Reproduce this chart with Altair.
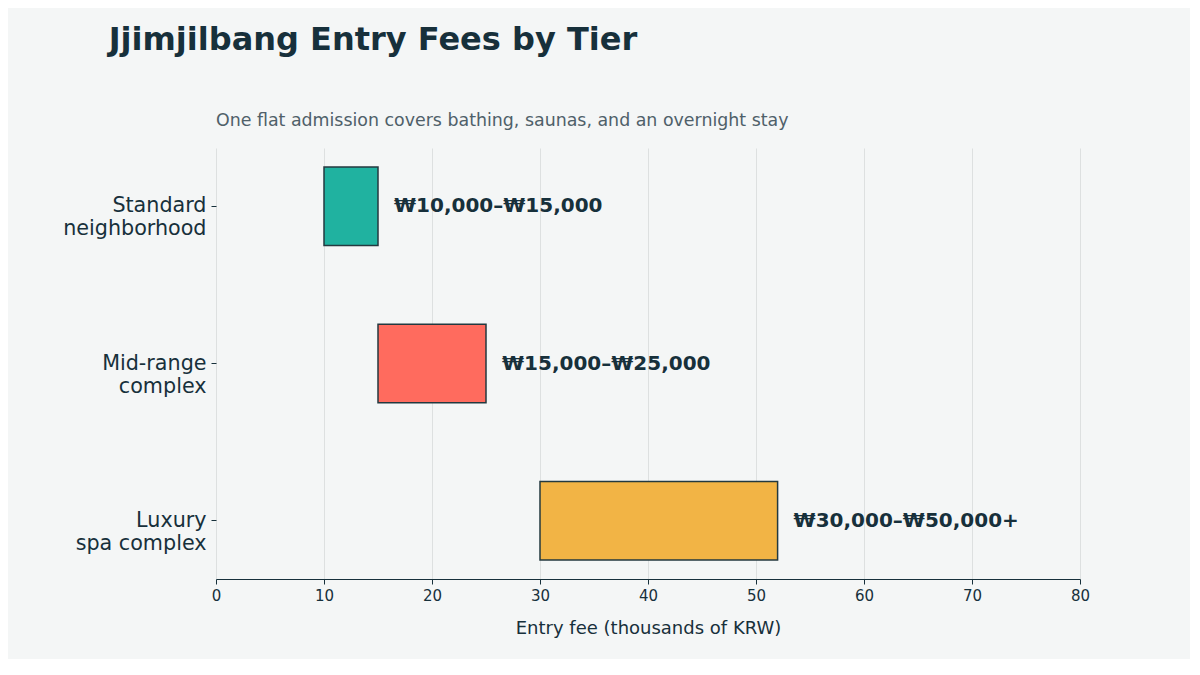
#!/usr/bin/env python3

"""Jjimjilbang entry fee ranges by tier."""

import altair as alt
import pandas as pd

tiers = ["Standard|neighborhood", "Mid-range|complex", "Luxury|spa complex"]
fee_low = [10, 15, 30]
fee_high = [15, 25, 52]
fee_labels = ["₩10,000–₩15,000", "₩15,000–₩25,000", "₩30,000–₩50,000+"]
bar_colors = ["#20b2a0", "#ff6b5e", "#f2b445"]

INK = "#17303b"
FONT = "DejaVu Sans"


def plot(fees, output_filename):
    y_enc = alt.Y(
        "tier:N",
        sort=tiers,
        scale=alt.Scale(paddingInner=0.5, paddingOuter=0.12),
        axis=alt.Axis(
            title=None,
            labelExpr="split(datum.label, '|')",
            labelFontSize=20.7,
            labelLineHeight=23,
            labelColor=INK,
            labelPadding=5,
            tickSize=5,
            tickColor=INK,
            domain=False,
            grid=False,
        ),
    )

    bars = alt.Chart(fees).mark_bar(
        stroke="#23393f", strokeWidth=1.5
    ).encode(
        x=alt.X(
            "low:Q",
            scale=alt.Scale(domain=[0, 80], nice=False),
            axis=alt.Axis(
                title="Entry fee (thousands of KRW)",
                titleFontSize=18,
                titleFontWeight="normal",
                titleColor=INK,
                titlePadding=16,
                labelFontSize=15,
                labelColor=INK,
                labelFlush=False,
                labelPadding=4,
                tickSize=5,
                tickColor=INK,
                domainColor=INK,
                gridColor="#dde0e0",
                values=list(range(0, 81, 10)),
            ),
        ),
        x2="high:Q",
        y=y_enc,
        color=alt.Color("tier:N", scale=alt.Scale(domain=tiers, range=bar_colors), legend=None),
    )

    labels = alt.Chart(fees).mark_text(
        align="left", baseline="middle", dx=16,
        fontSize=20, fontWeight="bold", color=INK, font=FONT,
    ).encode(
        x="high:Q",
        y=alt.Y("tier:N", sort=tiers),
        text="label:N",
    )

    inner = alt.layer(bars, labels).properties(
        width=864,
        height=431,
        title=alt.TitleParams(
            text="One flat admission covers bathing, saunas, and an overnight stay",
            anchor="start",
            frame="group",
            fontSize=17.4,
            fontWeight="normal",
            color="#4f6069",
            offset=19,
        ),
    )

    chart = alt.vconcat(inner).properties(
        title=alt.TitleParams(
            text="Jjimjilbang Entry Fees by Tier",
            anchor="start",
            frame="bounds",
            fontSize=32,
            fontWeight="bold",
            color=INK,
            dx=46,
            offset=55,
        ),
        background="#f4f6f6",
        padding={"left": 54, "top": 15, "right": 100, "bottom": 22},
    ).configure(
        font=FONT
    ).configure_view(
        stroke=None
    )

    chart.save(output_filename, embed_options={"renderer": "svg", "actions": False})


def main():
    fees = pd.DataFrame({
        "tier": tiers,
        "low": fee_low,
        "high": fee_high,
        "label": fee_labels,
    })
    plot(fees, "out.html")


if __name__ == "__main__":
    main()
